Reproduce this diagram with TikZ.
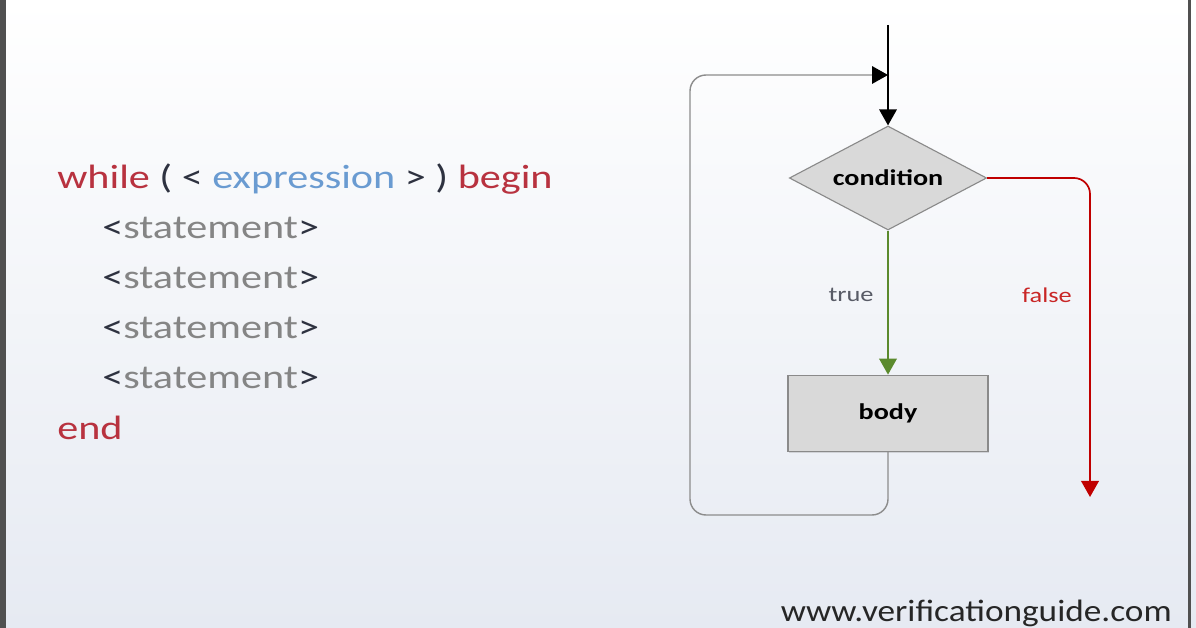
\documentclass[tikz,border=0pt]{standalone}
\usepackage{fontspec}
\setmainfont{Carlito}[FakeStretch=1.25]
\newfontfamily\sitefont{Carlito}[FakeStretch=1.14]
\usepackage{tikz}
\usetikzlibrary{arrows.meta,positioning,shapes.geometric,shadows}
\usepackage{xcolor}
\definecolor{kwred}{HTML}{B8323F}
\definecolor{exprblue}{HTML}{6A9BD1}
\definecolor{stmtgrey}{HTML}{858585}
\definecolor{angledark}{HTML}{2E3240}
\definecolor{shapefill}{HTML}{D9D9D9}
\definecolor{shapeedge}{HTML}{8A8A8A}
\definecolor{loopgrey}{HTML}{8C8C8C}
\definecolor{truegreen}{HTML}{5B8A2D}
\definecolor{falsered}{HTML}{C00000}
\definecolor{bgbottom}{HTML}{E6EAF2}
\definecolor{framegrey}{HTML}{505050}

\begin{document}
\begin{tikzpicture}[
  x=0.025cm, y=0.025cm,
  code/.style={anchor=base west, inner sep=0pt, font=\fontsize{24}{28}\selectfont},
  decision/.style={diamond, draw=shapeedge, fill=shapefill, line width=0.8pt, aspect=1.9,
    inner sep=0pt, minimum width=4.93cm, minimum height=2.6cm, font=\bfseries\fontsize{16}{18}\selectfont},
  process/.style={rectangle, draw=shapeedge, fill=shapefill, line width=1pt,
    minimum width=5cm, minimum height=1.9cm, font=\bfseries\fontsize{16}{18}\selectfont,
    drop shadow={shadow xshift=1pt, shadow yshift=-1pt, opacity=0.25}},
  tip/.style={-{Triangle[length=0.4cm, width=0.44cm, #1]}},
  lbl/.style={inner sep=0pt, font=\fontsize{15}{18}\selectfont}
]
% background and frame
\useasboundingbox (0,0) rectangle (1196,-628);
\shade[top color=white, middle color=white!60!bgbottom, bottom color=bgbottom] (0,0) rectangle (1196,-628);
\fill[framegrey] (0,0) rectangle (6,-628);
\fill[framegrey] (1187.5,0) rectangle (1190.5,-628);

% pseudo code
\node[code] (while) at (57,-189) {\color{kwred}while \color{angledark}( < \color{exprblue}expression \color{angledark}> ) \color{kwred}begin};
\foreach \i in {1,...,4}
  \node[code] (stmt\i) at (102,-189-50*\i) {\color{angledark}<\color{stmtgrey}statement\color{angledark}>};
\node[code] (end) at (57,-440) {\color{kwred}end};

% flow chart
\coordinate (entry) at (888,-25);
\coordinate (join) at (888,-75);
\node[decision] (cond) at (888,-178) {condition};
\node[process, below=3.6cm of cond] (body) {body};
\coordinate (loopcorner) at (690,-515);
\coordinate (falseend) at (1090,-497);
\node[lbl, text=angledark!80] (truelbl) at (851,-295) {true};
\node[lbl, text=falsered!85] (falselbl) at (1047,-295) {false};

\draw[black, line width=1pt, tip={}] (entry) -- (cond.north);
\draw[truegreen, line width=1.2pt, tip={}] (cond.south) -- (body.north);
\draw[falsered, line width=1.2pt, rounded corners=0.4cm, tip={}] (cond.east) -| (falseend);
\draw[loopgrey, line width=1pt, rounded corners=0.4cm, tip={color=black}]
  (body.south) |- (loopcorner) |- (join);

\node[anchor=base east, inner sep=0pt, font=\sitefont\fontsize{22}{26}\selectfont, text=black!85] (site) at (1172,-621) {www.verificationguide.com};
\end{tikzpicture}
\end{document}
